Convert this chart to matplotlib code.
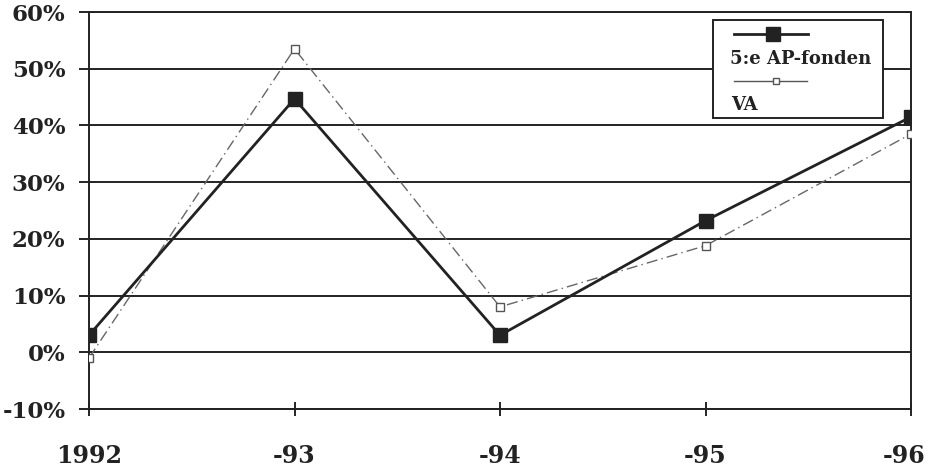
import numpy as np
import matplotlib.pyplot as plt
import matplotlib.transforms as mtransforms
from matplotlib.patches import Rectangle
from matplotlib.lines import Line2D

years = ['1992', '-93', '-94', '-95', '-96']
ap_fonden = [3.0, 44.7, 3.0, 23.2, 41.5]   # 5:e AP-fonden, %
va = [-1.0, 53.5, 8.0, 18.8, 38.5]          # VA, %

plt.rcParams['font.family'] = ['DejaVu Serif']

fig = plt.figure(figsize=(9.26, 4.66), dpi=100)
ax = fig.add_axes([89/926, 1 - 409/466, (911-89)/926, (409-12)/466])

x = np.arange(len(years))
ax.plot(x, va, color='#666666', lw=1.0, ls=(0, (8, 3, 1, 3)),
        marker='s', ms=6, mfc='white', mec='#555555', mew=1.0, zorder=3)
ax.plot(x, ap_fonden, color='#222222', lw=2.0,
        marker='s', ms=10, mfc='#222222', mec='#222222', zorder=4)

ax.set_xlim(0, len(years) - 1)
ax.set_ylim(-10, 60)
ax.set_yticks(np.arange(-10, 61, 10))
ax.set_yticklabels(['%d%%' % v for v in range(-10, 61, 10)],
                   fontsize=16.5, fontweight='bold', color='#222222')
ax.set_xticks(x)
ax.set_xticklabels(years, fontsize=17, fontweight='bold', color='#222222')
ax.tick_params(axis='x', direction='inout', length=10, width=1.2, pad=20)
ax.tick_params(axis='y', direction='out', length=7, width=1.2, pad=10)
ax.grid(axis='y', color='#222222', lw=1.4)
for s in ax.spines.values():
    s.set_color('#222222')
    s.set_linewidth(1.4)

# last label sits against the right edge
last = ax.get_xticklabels()[-1]
last.set_ha('right')
last.set_transform(last.get_transform() +
                   mtransforms.ScaledTranslation(15/100, 0, fig.dpi_scale_trans))

# legend drawn by hand: handle above its label
def fx(px):
    return (px - 89) / (911 - 89)

def fy(py):
    return (409 - py) / (409 - 12)

tr = ax.transAxes
ax.add_patch(Rectangle((fx(713), fy(118)), fx(883) - fx(713), fy(20) - fy(118),
                       transform=tr, facecolor='white', edgecolor='#222222',
                       lw=1.4, zorder=5))
ax.add_line(Line2D([fx(734), fx(808)], [fy(34), fy(34)], transform=tr,
                   color='#222222', lw=2.0, zorder=6))
ax.add_line(Line2D([fx(773)], [fy(34)], transform=tr, marker='s', ms=10,
                   color='#222222', zorder=6))
ax.text(fx(730), fy(59), '5:e AP-fonden', transform=tr, fontsize=13,
        fontweight='bold', color='#222222', va='center', ha='left', zorder=6)
ax.add_line(Line2D([fx(734), fx(807)], [fy(81), fy(81)], transform=tr,
                   color='#555555', lw=1.0, zorder=6))
ax.add_line(Line2D([fx(776)], [fy(81)], transform=tr, marker='s', ms=4,
                   mfc='white', mec='#555555', zorder=6))
ax.text(fx(731), fy(105), 'VA', transform=tr, fontsize=13,
        fontweight='bold', color='#222222', va='center', ha='left', zorder=6)

fig.savefig('out.png', dpi=100)
